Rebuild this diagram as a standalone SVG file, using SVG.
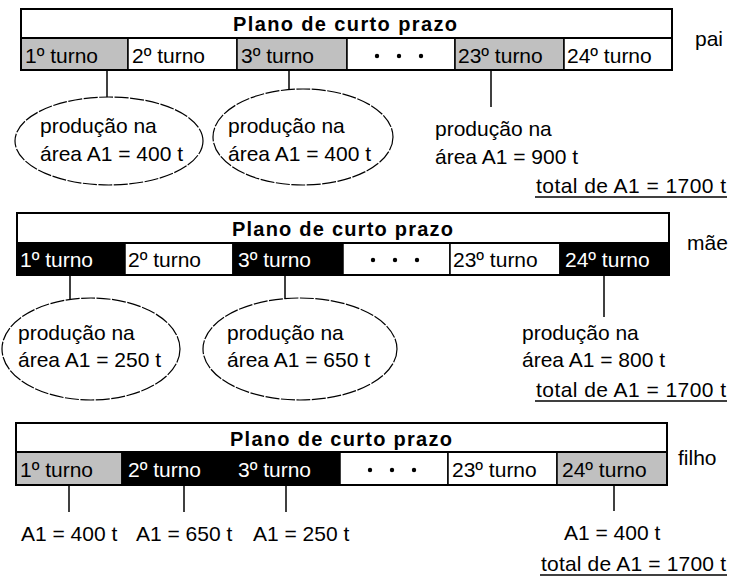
<svg xmlns="http://www.w3.org/2000/svg" width="735" height="579" viewBox="0 0 735 579">
  <style>
    text { font-family: "Liberation Sans", Arial, sans-serif; font-size: 21px; fill: #000; }
    .title { font-weight: bold; font-size: 20px; }
    .inv { fill: #fff; }
    .cell { stroke: #000; stroke-width: 1.5; }
    .g { fill: #c0c0c0; }
    .b { fill: #000; }
    .w { fill: #fff; }
    .frame { fill: none; stroke: #000; stroke-width: 2; }
    .ell { fill: #fff; stroke: #000; stroke-width: 1.2; stroke-dasharray: 14 1.5; }
    .conn { stroke: #000; stroke-width: 1.5; fill: none; }
    .ul { stroke: #000; stroke-width: 1.5; }
  </style>
  <defs>
    <g id="dots">
      <circle cx="0" cy="0" r="2.2"/>
      <circle cx="22" cy="0" r="2.2"/>
      <circle cx="44" cy="0" r="2.2"/>
    </g>
  </defs>
  <rect width="735" height="579" fill="#fff"/>

  <!-- connectors -->
  <g id="connectors">
    <line class="conn" x1="107" y1="70" x2="107" y2="98"/>
    <line class="conn" x1="289" y1="70" x2="289" y2="89"/>
    <line class="conn" x1="491" y1="70" x2="491" y2="107"/>
    <line class="conn" x1="70" y1="275" x2="70" y2="300"/>
    <line class="conn" x1="285" y1="275" x2="285" y2="299"/>
    <line class="conn" x1="604" y1="275" x2="604" y2="317"/>
    <line class="conn" x1="69" y1="485" x2="69" y2="512"/>
    <line class="conn" x1="184" y1="485" x2="184" y2="512"/>
    <line class="conn" x1="286" y1="485" x2="286" y2="512"/>
    <line class="conn" x1="614" y1="485" x2="614" y2="511"/>
  </g>

  <!-- plan: pai -->
  <g id="plano-pai">
    <rect class="w" x="21" y="9" width="651" height="29"/>
    <text class="title" x="233" y="31" textLength="224" lengthAdjust="spacing">Plano de curto prazo</text>
    <rect class="cell g" x="21" y="38" width="107" height="32"/>
    <rect class="cell w" x="128" y="38" width="109" height="32"/>
    <rect class="cell g" x="237" y="38" width="110" height="32"/>
    <rect class="cell w" x="347" y="38" width="108" height="32"/>
    <rect class="cell g" x="455" y="38" width="109" height="32"/>
    <rect class="cell w" x="564" y="38" width="108" height="32"/>
    <rect class="frame" x="21" y="9" width="651" height="61"/>
    <line class="frame" x1="21" y1="38" x2="672" y2="38"/>
    <text x="25" y="63">1º turno</text>
    <text x="132" y="63">2º turno</text>
    <text x="241" y="63">3º turno</text>
    <use href="#dots" x="377" y="56"/>
    <text x="458" y="63">23º turno</text>
    <text x="567" y="63">24º turno</text>
  </g>
  <text id="label-pai" x="695" y="46">pai</text>

  <g id="pai-turno1">
    <ellipse class="ell" cx="109" cy="141" rx="94" ry="44"/>
    <text x="40" y="133">produção na</text>
    <text x="40" y="161">área A1 = 400 t</text>
  </g>
  <g id="pai-turno3">
    <ellipse class="ell" cx="303" cy="137" rx="90" ry="48"/>
    <text x="228" y="133">produção na</text>
    <text x="228" y="161">área A1 = 400 t</text>
  </g>
  <g id="pai-turno23">
    <text x="435" y="136">produção na</text>
    <text x="435" y="164">área A1 = 900 t</text>
  </g>
  <g id="pai-total">
    <text x="536" y="193" textLength="190" lengthAdjust="spacing">total de A1 = 1700 t</text>
    <line class="ul" x1="535" y1="197" x2="727" y2="197"/>
  </g>

  <!-- plan: mãe -->
  <g id="plano-mae">
    <rect class="w" x="17" y="213" width="652" height="30"/>
    <text class="title" x="232" y="236" textLength="221" lengthAdjust="spacing">Plano de curto prazo</text>
    <rect class="cell b" x="17" y="243" width="108" height="32"/>
    <rect class="cell w" x="125" y="243" width="108" height="32"/>
    <rect class="cell b" x="233" y="243" width="110" height="32"/>
    <rect class="cell w" x="343" y="243" width="107" height="32"/>
    <rect class="cell w" x="450" y="243" width="110" height="32"/>
    <rect class="cell b" x="560" y="243" width="109" height="32"/>
    <rect class="frame" x="17" y="213" width="652" height="62"/>
    <line class="frame" x1="17" y1="243" x2="669" y2="243"/>
    <text class="inv" x="20" y="267">1º turno</text>
    <text x="128" y="267">2º turno</text>
    <text class="inv" x="238" y="267">3º turno</text>
    <use href="#dots" x="373" y="260"/>
    <text x="453" y="267">23º turno</text>
    <text class="inv" x="565" y="267">24º turno</text>
  </g>
  <text id="label-mae" x="687" y="250">mãe</text>

  <g id="mae-turno1">
    <ellipse class="ell" cx="91" cy="349" rx="89" ry="51"/>
    <text x="18" y="340">produção na</text>
    <text x="18" y="367">área A1 = 250 t</text>
  </g>
  <g id="mae-turno3">
    <ellipse class="ell" cx="300" cy="349" rx="97" ry="51"/>
    <text x="227" y="340">produção na</text>
    <text x="227" y="367">área A1 = 650 t</text>
  </g>
  <g id="mae-turno24">
    <text x="522" y="340">produção na</text>
    <text x="522" y="367">área A1 = 800 t</text>
  </g>
  <g id="mae-total">
    <text x="536" y="397" textLength="190" lengthAdjust="spacing">total de A1 = 1700 t</text>
    <line class="ul" x1="535" y1="401" x2="727" y2="401"/>
  </g>

  <!-- plan: filho -->
  <g id="plano-filho">
    <rect class="w" x="16" y="423" width="651" height="29"/>
    <text class="title" x="230" y="446" textLength="222" lengthAdjust="spacing">Plano de curto prazo</text>
    <rect class="cell g" x="16" y="452" width="106" height="33"/>
    <rect class="cell b" x="122" y="452" width="218" height="33"/>
    <rect class="cell w" x="340" y="452" width="108" height="33"/>
    <rect class="cell w" x="448" y="452" width="109" height="33"/>
    <rect class="cell g" x="557" y="452" width="110" height="33"/>
    <rect class="frame" x="16" y="423" width="651" height="62"/>
    <line class="frame" x1="16" y1="452" x2="667" y2="452"/>
    <text x="20" y="477">1º turno</text>
    <text class="inv" x="128" y="477">2º turno</text>
    <text class="inv" x="238" y="477">3º turno</text>
    <use href="#dots" x="370" y="470"/>
    <text x="452" y="477">23º turno</text>
    <text x="562" y="477">24º turno</text>
  </g>
  <text id="label-filho" x="678" y="465">filho</text>

  <g id="filho-turno1"><text x="21" y="541">A1 = 400 t</text></g>
  <g id="filho-turno2"><text x="136" y="541">A1 = 650 t</text></g>
  <g id="filho-turno3"><text x="253" y="541">A1 = 250 t</text></g>
  <g id="filho-turno24"><text x="564" y="540">A1 = 400 t</text></g>
  <g id="filho-total">
    <text x="541" y="571" textLength="185" lengthAdjust="spacing">total de A1 = 1700 t</text>
    <line class="ul" x1="540" y1="575" x2="727" y2="575"/>
  </g>
</svg>
